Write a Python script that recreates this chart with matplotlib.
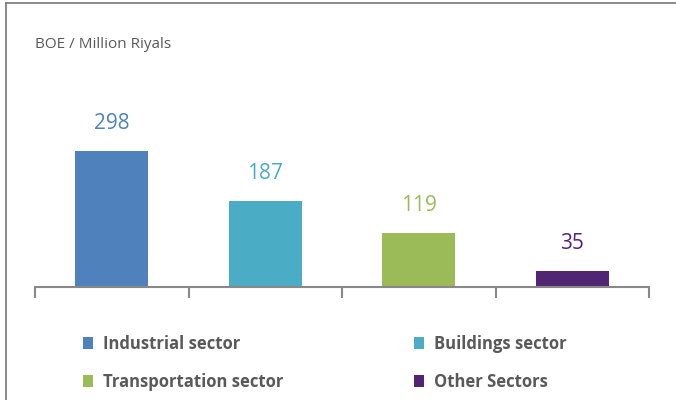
import matplotlib
matplotlib.use("Agg")
import matplotlib.pyplot as plt
from matplotlib.patches import Patch
from matplotlib.lines import Line2D

plt.rcParams["font.family"] = ["Open Sans", "DejaVu Sans"]

sectors = ["Industrial sector", "Buildings sector", "Transportation sector", "Other Sectors"]
values = [298, 187, 119, 35]
colors = ["#4F81BD", "#4BACC6", "#9BBB59", "#522474"]
unit_label = "BOE / Million Riyals"

fig = plt.figure(figsize=(6.76, 4.0), dpi=100, facecolor="white")
ax = fig.add_axes([35/676, 113/400, 614/676, 227/400])

x = range(len(values))
ax.bar(x, values, width=0.475, color=colors, zorder=2)
for i, v in enumerate(values):
    ax.text(i, v + 60, str(v), ha="center", va="center", fontsize=15, color=colors[i])

ax.set_xlim(-0.5, len(values) - 0.5)
ax.set_ylim(0, 496)
for s in ["top", "right", "left"]:
    ax.spines[s].set_visible(False)
ax.spines["bottom"].set_color("#888888")
ax.spines["bottom"].set_linewidth(1.5)
ax.set_yticks([])
ax.set_xticks([i - 0.5 for i in range(len(values) + 1)])
ax.set_xticklabels([])
ax.tick_params(axis="x", direction="out", length=8, width=1.5, color="#888888")

fig.text(35/676, 1 - 45/400, unit_label, fontsize=11, color="#595959", va="center", ha="left")

# frame lines (left and top)
fig.add_artist(Line2D([6/676, 6/676], [0, 1 - 3/400], color="#777777", lw=1.2))
fig.add_artist(Line2D([6/676, 1], [1 - 3/400, 1 - 3/400], color="#777777", lw=1.2))

handles = [Patch(facecolor=c, edgecolor="none") for c in colors]
legend_kw = dict(frameon=False, handlelength=0.6, handleheight=0.75, handletextpad=0.6,
                 labelspacing=1.2, borderpad=0, borderaxespad=0, labelcolor="#595959",
                 prop={"weight": "bold", "size": 12})
fig.legend([handles[0], handles[2]], [sectors[0], sectors[2]], loc="upper left",
           bbox_to_anchor=(83/676, 1 - 335/400), **legend_kw)
fig.legend([handles[1], handles[3]], [sectors[1], sectors[3]], loc="upper left",
           bbox_to_anchor=(414/676, 1 - 335/400), **legend_kw)

fig.savefig("out.png", dpi=100, facecolor="white")
